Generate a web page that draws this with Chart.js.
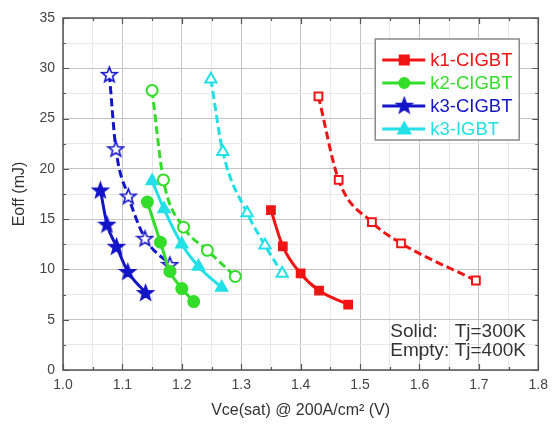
<!DOCTYPE html>
<html lang="en">
<head>
    <meta charset="UTF-8">
    <title>Eoff vs Vce(sat)</title>
    <script src="https://cdn.jsdelivr.net/npm/chart.js"></script>
    <style>
        html, body { margin: 0; padding: 0; background: #fff; }
        #wrap { width: 555px; height: 424px; }
    </style>
</head>
<body>
<div id="wrap"><canvas id="eoffChart"></canvas></div>

<script>
    // values: Vce(sat) in V, Eoff in mJ
    const k1SolidX = [1.350, 1.370, 1.400, 1.431, 1.480];
    const k1SolidY = [15.9, 12.3, 9.6, 7.9, 6.5];
    const k1EmptyX = [1.430, 1.464, 1.520, 1.569, 1.695];
    const k1EmptyY = [27.2, 18.9, 14.7, 12.6, 8.9];

    const k2SolidX = [1.142, 1.164, 1.180, 1.200, 1.220];
    const k2SolidY = [16.7, 12.7, 9.8, 8.1, 6.8];
    const k2EmptyX = [1.150, 1.169, 1.203, 1.243, 1.290];
    const k2EmptyY = [27.8, 18.9, 14.2, 11.9, 9.3];

    const k3cSolidX = [1.063, 1.074, 1.090, 1.109, 1.139];
    const k3cSolidY = [17.9, 14.5, 12.3, 9.8, 7.7];
    const k3cEmptyX = [1.078, 1.089, 1.110, 1.138, 1.180];
    const k3cEmptyY = [29.4, 22.0, 17.3, 13.1, 10.5];

    const k3iSolidX = [1.150, 1.170, 1.200, 1.228, 1.267];
    const k3iSolidY = [18.8, 16.0, 12.5, 10.3, 8.2];
    const k3iEmptyX = [1.249, 1.269, 1.310, 1.340, 1.369];
    const k3iEmptyY = [28.9, 21.7, 15.6, 12.4, 9.6];

    const seriesNames = ["k1-CIGBT", "k2-CIGBT", "k3-CIGBT", "k3-IGBT"];
    const seriesColors = ["#f01414", "#33dd2a", "#1414c8", "#22e0e6"];

    const FONT = "'Liberation Sans', Arial, sans-serif";

    function pts(xs, ys) {
        return xs.map((x, i) => ({ x: x, y: ys[i] }));
    }

    // five point star as a small canvas, filled or hollow
    function starImage(color, filled, size) {
        const c = document.createElement("canvas");
        c.width = size; c.height = size;
        const g = c.getContext("2d");
        const cx = size / 2, cy = size / 2 + 0.8;
        const R = size / 2 - 1.5, r = R * 0.42;
        g.beginPath();
        for (let i = 0; i < 10; i++) {
            const a = -Math.PI / 2 + i * Math.PI / 5;
            const rad = i % 2 === 0 ? R : r;
            g.lineTo(cx + rad * Math.cos(a), cy + rad * Math.sin(a));
        }
        g.closePath();
        g.fillStyle = filled ? color : "#fff";
        g.fill();
        g.lineWidth = 1.6;
        g.strokeStyle = color;
        g.lineJoin = "miter";
        g.stroke();
        return c;
    }

    const markerStyles = ["rect", "circle", "star", "triangle"];
    const markerRadius = [5.5, 5.5, 9, 6.5];
    const starSize = 19;

    function makeSet(idx, xs, ys, filled) {
        const color = seriesColors[idx];
        const style = markerStyles[idx] === "star" ? starImage(color, filled, starSize) : markerStyles[idx];
        return {
            label: seriesNames[idx] + (filled ? "" : " (400K)"),
            data: pts(xs, ys),
            showLine: true,
            borderColor: color,
            borderWidth: 3,
            borderDash: filled ? [] : [8, 4],
            cubicInterpolationMode: "monotone",
            pointStyle: style,
            pointRadius: markerRadius[idx],
            pointBorderWidth: 2,
            pointBorderColor: color,
            pointBackgroundColor: filled ? color : "#fff",
            pointHoverRadius: markerRadius[idx],
            order: filled ? 1 : 2
        };
    }

    const datasets = [
        makeSet(0, k1SolidX, k1SolidY, true),
        makeSet(0, k1EmptyX, k1EmptyY, false),
        makeSet(1, k2SolidX, k2SolidY, true),
        makeSet(1, k2EmptyX, k2EmptyY, false),
        makeSet(2, k3cSolidX, k3cSolidY, true),
        makeSet(2, k3cEmptyX, k3cEmptyY, false),
        makeSet(3, k3iSolidX, k3iSolidY, true),
        makeSet(3, k3iEmptyX, k3iEmptyY, false)
    ];

    const isMajorX = v => Math.abs(v * 10 - Math.round(v * 10)) < 1e-6;
    const isMajorY = v => Math.abs(v / 5 - Math.round(v / 5)) < 1e-6;

    // inward tick marks on all four sides plus the frame
    const frameTicks = {
        id: "frameTicks",
        afterDraw(chart) {
            const { ctx, chartArea: a, scales } = chart;
            ctx.save();
            ctx.strokeStyle = "#555";
            ctx.lineWidth = 1.2;
            scales.x.ticks.forEach(t => {
                const px = Math.round(scales.x.getPixelForValue(t.value)) + 0.5;
                const len = isMajorX(t.value) ? 6 : 3;
                ctx.beginPath();
                ctx.moveTo(px, a.bottom); ctx.lineTo(px, a.bottom - len);
                ctx.moveTo(px, a.top); ctx.lineTo(px, a.top + len);
                ctx.stroke();
            });
            scales.y.ticks.forEach(t => {
                const py = Math.round(scales.y.getPixelForValue(t.value)) + 0.5;
                const len = isMajorY(t.value) ? 6 : 3;
                ctx.beginPath();
                ctx.moveTo(a.left, py); ctx.lineTo(a.left + len, py);
                ctx.moveTo(a.right, py); ctx.lineTo(a.right - len, py);
                ctx.stroke();
            });
            ctx.lineWidth = 1.5;
            ctx.strokeRect(a.left, a.top, a.right - a.left, a.bottom - a.top);
            ctx.restore();
        }
    };

    // legend box and the temperature note inside the plot
    const insideLegend = {
        id: "insideLegend",
        afterDraw(chart) {
            const { ctx, chartArea: a } = chart;
            ctx.save();
            const bx = a.right - 163, by = a.top + 21, bw = 144, bh = 101;
            ctx.fillStyle = "#fff";
            ctx.fillRect(bx, by, bw, bh);
            ctx.strokeStyle = "#8a8a8a";
            ctx.lineWidth = 1.5;
            ctx.strokeRect(bx, by, bw, bh);

            ctx.font = "18.5px " + FONT;
            ctx.textBaseline = "middle";
            const rowY = [by + 21, by + 44, by + 67, by + 90];
            seriesNames.forEach((name, i) => {
                const y = rowY[i];
                const color = seriesColors[i];
                ctx.strokeStyle = color;
                ctx.lineWidth = 3;
                ctx.setLineDash([]);
                ctx.beginPath();
                ctx.moveTo(bx + 7, y); ctx.lineTo(bx + 50, y);
                ctx.stroke();
                const mx = bx + 29;
                if (markerStyles[i] === "star") {
                    ctx.drawImage(starImage(color, true, starSize), mx - starSize / 2, y - starSize / 2 - 0.8);
                } else {
                    ctx.fillStyle = color;
                    ctx.strokeStyle = color;
                    ctx.lineWidth = 2;
                    ctx.beginPath();
                    if (markerStyles[i] === "rect") {
                        ctx.rect(mx - 4.5, y - 4.5, 9, 9);
                    } else if (markerStyles[i] === "circle") {
                        ctx.arc(mx, y, 5, 0, Math.PI * 2);
                    } else {
                        ctx.moveTo(mx, y - 6.5); ctx.lineTo(mx + 6, y + 4.5); ctx.lineTo(mx - 6, y + 4.5); ctx.closePath();
                    }
                    ctx.fill();
                    ctx.stroke();
                }
                ctx.fillStyle = color;
                ctx.textAlign = "left";
                ctx.fillText(name, bx + 55, y + 1);
            });

            ctx.fillStyle = "#333";
            ctx.font = "19px " + FONT;
            const tx = a.right - 148;
            const line2 = "Empty: Tj=400K";
            const endX = tx + ctx.measureText(line2).width;
            ctx.textAlign = "left";
            ctx.fillText("Solid:", tx, a.bottom - 38);
            ctx.fillText(line2, tx, a.bottom - 19);
            ctx.textAlign = "right";
            ctx.fillText("Tj=300K", endX, a.bottom - 38);
            ctx.restore();
        }
    };

    const ctx = document.getElementById("eoffChart").getContext("2d");

    new Chart(ctx, {
        type: "scatter",
        data: { datasets: datasets },
        plugins: [frameTicks, insideLegend],
        options: {
            responsive: true,
            maintainAspectRatio: false,
            animation: false,
            layout: { padding: { top: 18, right: 12, left: 0, bottom: 0 } },
            plugins: {
                legend: { display: false },
                tooltip: { enabled: false }
            },
            scales: {
                x: {
                    type: "linear",
                    min: 1.0,
                    max: 1.8,
                    afterFit: s => { s.height = 54; },
                    border: { display: false },
                    grid: {
                        drawTicks: false,
                        lineWidth: 1,
                        color: c => isMajorX(c.tick.value) ? "#c4c4c4" : "#e8e8e8"
                    },
                    ticks: {
                        stepSize: 0.05,
                        autoSkip: false,
                        maxRotation: 0,
                        padding: 7,
                        color: "#444",
                        font: { family: FONT, size: 14 },
                        callback: v => isMajorX(v) ? v.toFixed(1) : ""
                    },
                    title: {
                        display: true,
                        text: "Vce(sat) @ 200A/cm\u00b2 (V)",
                        color: "#333",
                        font: { family: FONT, size: 16 },
                        padding: { top: 3, bottom: 4 }
                    }
                },
                y: {
                    type: "linear",
                    min: 0,
                    max: 35,
                    afterFit: s => { s.width = 63; },
                    border: { display: false },
                    grid: {
                        drawTicks: false,
                        lineWidth: 1,
                        color: c => isMajorY(c.tick.value) ? "#c4c4c4" : "#e8e8e8"
                    },
                    ticks: {
                        stepSize: 2.5,
                        autoSkip: false,
                        padding: 8,
                        color: "#444",
                        font: { family: FONT, size: 14 },
                        callback: v => isMajorY(v) ? String(v) : ""
                    },
                    title: {
                        display: true,
                        text: "Eoff (mJ)",
                        color: "#333",
                        font: { family: FONT, size: 16 },
                        padding: { top: 10, bottom: 4 }
                    }
                }
            }
        }
    });
</script>
</body>
</html>
